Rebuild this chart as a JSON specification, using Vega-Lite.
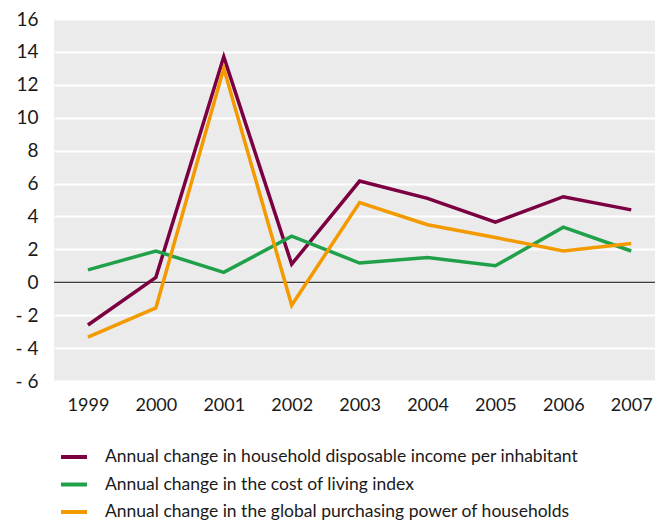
{
  "$schema": "https://vega.github.io/schema/vega-lite/v6.json",
  "autosize": "none",
  "width": 601,
  "height": 362,
  "padding": {"left": 54, "top": 19, "right": 0, "bottom": 142},
  "background": "white",
  "config": {
    "view": {"fill": "#ebebeb", "stroke": null},
    "font": "Lato"
  },
  "datasets": {
    "series": [
      {"year": 1999, "series": "Annual change in household disposable income per inhabitant", "value": -2.6},
      {"year": 2000, "series": "Annual change in household disposable income per inhabitant", "value": 0.3},
      {"year": 2001, "series": "Annual change in household disposable income per inhabitant", "value": 13.7},
      {"year": 2002, "series": "Annual change in household disposable income per inhabitant", "value": 1.1},
      {"year": 2003, "series": "Annual change in household disposable income per inhabitant", "value": 6.15},
      {"year": 2004, "series": "Annual change in household disposable income per inhabitant", "value": 5.1},
      {"year": 2005, "series": "Annual change in household disposable income per inhabitant", "value": 3.65},
      {"year": 2006, "series": "Annual change in household disposable income per inhabitant", "value": 5.2},
      {"year": 2007, "series": "Annual change in household disposable income per inhabitant", "value": 4.4},
      {"year": 1999, "series": "Annual change in the cost of living index", "value": 0.75},
      {"year": 2000, "series": "Annual change in the cost of living index", "value": 1.9},
      {"year": 2001, "series": "Annual change in the cost of living index", "value": 0.6},
      {"year": 2002, "series": "Annual change in the cost of living index", "value": 2.8},
      {"year": 2003, "series": "Annual change in the cost of living index", "value": 1.17},
      {"year": 2004, "series": "Annual change in the cost of living index", "value": 1.5},
      {"year": 2005, "series": "Annual change in the cost of living index", "value": 1.0},
      {"year": 2006, "series": "Annual change in the cost of living index", "value": 3.35},
      {"year": 2007, "series": "Annual change in the cost of living index", "value": 1.9},
      {"year": 1999, "series": "Annual change in the global purchasing power of households", "value": -3.33},
      {"year": 2000, "series": "Annual change in the global purchasing power of households", "value": -1.56},
      {"year": 2001, "series": "Annual change in the global purchasing power of households", "value": 13.0},
      {"year": 2002, "series": "Annual change in the global purchasing power of households", "value": -1.4},
      {"year": 2003, "series": "Annual change in the global purchasing power of households", "value": 4.85},
      {"year": 2004, "series": "Annual change in the global purchasing power of households", "value": 3.5},
      {"year": 2005, "series": "Annual change in the global purchasing power of households", "value": 2.72},
      {"year": 2006, "series": "Annual change in the global purchasing power of households", "value": 1.9},
      {"year": 2007, "series": "Annual change in the global purchasing power of households", "value": 2.35}
    ],
    "zero": [{"value": 0}]
  },
  "encoding": {
    "y": {
      "field": "value", "type": "quantitative",
      "scale": {"domain": [-6, 16], "nice": false},
      "axis": {
        "title": null, "values": [-6, -4, -2, 0, 2, 4, 6, 8, 10, 12, 14, 16],
        "grid": true, "gridColor": "#ffffff", "gridWidth": 2, "gridOpacity": 1,
        "ticks": false, "domain": false,
        "labelFontSize": 19, "labelColor": "#1a1a1a", "labelPadding": 16, "labelFont": "Lato",
        "labelExpr": "datum.value < 0 ? '- ' + abs(datum.value) : datum.label"
      }
    }
  },
  "layer": [
    {
      "data": {"name": "zero"},
      "mark": {"type": "rule", "color": "#000000", "strokeWidth": 1}
    },
    {
      "data": {"name": "series"},
      "mark": {"type": "line", "strokeWidth": 3.5, "strokeJoin": "miter"},
      "encoding": {
        "x": {
          "field": "year", "type": "quantitative",
          "scale": {"domain": [1998.5, 2007.35], "nice": false, "zero": false},
          "axis": {
            "title": null, "values": [1999, 2000, 2001, 2002, 2003, 2004, 2005, 2006, 2007],
            "format": "d", "grid": false, "ticks": false, "domain": false,
            "labelFontSize": 18, "labelColor": "#1a1a1a", "labelPadding": 15, "labelFont": "Lato"
          }
        },
        "color": {
          "field": "series", "type": "nominal",
          "scale": {
            "domain": [
              "Annual change in household disposable income per inhabitant",
              "Annual change in the cost of living index",
              "Annual change in the global purchasing power of households"
            ],
            "range": ["#7b0041", "#20a049", "#f39a00"]
          },
          "legend": {
            "title": null, "orient": "none", "legendX": 5, "legendY": 423,
            "direction": "vertical", "symbolType": "stroke", "symbolSize": 676,
            "symbolStrokeWidth": 4, "labelFontSize": 17.5, "labelFont": "Lato",
            "labelColor": "#1a1a1a", "labelLimit": 600, "labelOffset": 16,
            "rowPadding": 3.5, "padding": 0
          }
        }
      }
    }
  ]
}
